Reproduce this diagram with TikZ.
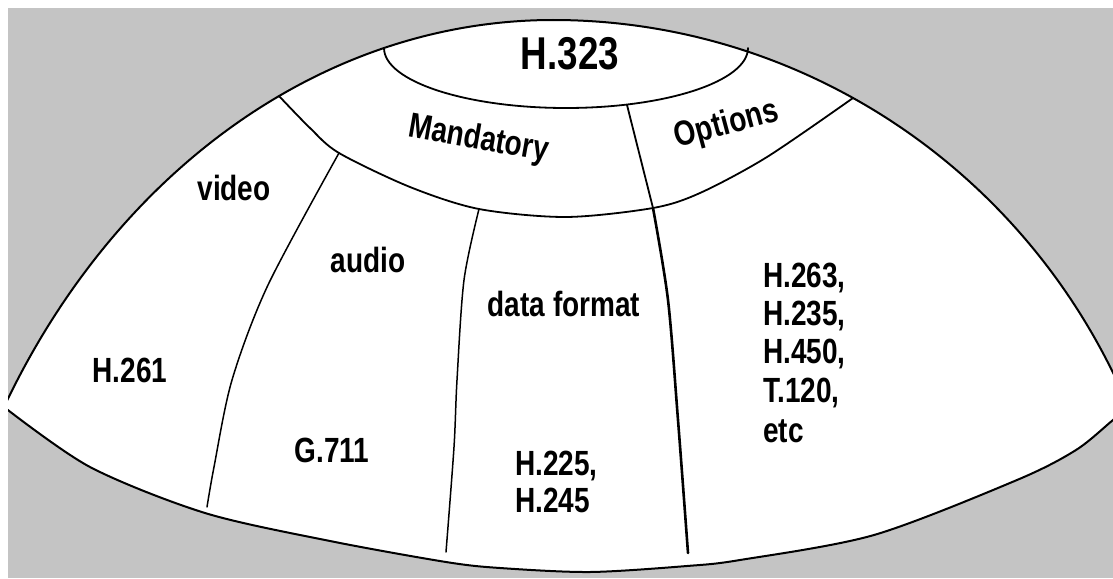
\documentclass[tikz,border=0pt]{standalone}
\usepackage{fontspec}
\setmainfont{Liberation Sans}[FakeStretch=0.8]
\definecolor{bggray}{RGB}{196,196,196}
\begin{document}
\begin{tikzpicture}[x=1pt,y=-1pt,
  outline/.style={line width=2pt, line join=round},
  arcline/.style={line width=1.8pt, line cap=round},
  divline/.style={line width=1.5pt, line cap=round},
  thickdiv/.style={line width=2.6pt, line cap=round},
  lbl/.style={inner sep=0pt, font=\fontsize{35}{38}\selectfont\bfseries},
  biglbl/.style={inner sep=0pt, font=\fontsize{46}{50}\selectfont\bfseries}]
\useasboundingbox (0,0) rectangle (1113,578);
\fill[white] (0,0) rectangle (1113,578);
\fill[bggray] (8,8) rectangle (1113,578);
\begin{scope}
\clip (8,8) rectangle (1113,578);
% outer shape: two elliptic arcs on top, smooth curve below
\path[fill=white, draw=black, outline]
  (4,407) arc[start angle=210, end angle=270, x radius=634, y radius=774]
  arc[start angle=270, end angle=337, x radius=625.7, y radius=637]
  -- plot[smooth] coordinates {(1129,408) (1113,420) (1076,450) (1017,480) (874,535) (740,560) (687,566) (590,572) (500,568) (446,562) (330,541) (205,513) (90,467) (4,407)}
  -- cycle;
% H.323 cap
\draw[arcline] (384,48) arc[start angle=180, end angle=0, x radius=182, y radius=60];
% Mandatory / Options band
\draw[arcline] plot[smooth] coordinates {(279,96) (310,128) (339,153) (410,187) (479,209) (566,217) (653,208) (700,193) (767,157) (853,98)};
% dividers
\draw[divline] plot[smooth] coordinates {(339,153) (268,285) (232,380) (214,467) (207,507)};
\draw[divline] plot[smooth] coordinates {(479,209) (464,280) (457,380) (454,447) (446,552)};
\draw[arcline] plot[smooth] coordinates {(627,105) (653,208)};
\draw[thickdiv] plot[smooth] coordinates {(653,208) (668,300) (678,420) (688,553)};
\end{scope}
% labels
\node[biglbl, anchor=base] (h323) at (570,70) {H.323};
\node[lbl, anchor=base, rotate=-10] (mand) at (477,149) {Mandatory};
\node[lbl, anchor=base, rotate=15] (opts) at (729,134) {Options};
\node[lbl, anchor=base] (video) at (234,200) {video};
\node[lbl, anchor=base] (audio) at (368,272) {audio};
\node[lbl, anchor=base] (data) at (564,316) {data format};
\node[lbl, anchor=base] (h261) at (130,382) {H.261};
\node[lbl, anchor=base] (g711) at (332,462) {G.711};
\node[lbl, anchor=base west] (h225) at (515,475) {H.225,};
\node[lbl, anchor=base west] (h245) at (515,512) {H.245};
\node[lbl, anchor=base west] (o1) at (763,287) {H.263,};
\node[lbl, anchor=base west] (o2) at (763,325) {H.235,};
\node[lbl, anchor=base west] (o3) at (763,363) {H.450,};
\node[lbl, anchor=base west] (o4) at (763,402) {T.120,};
\node[lbl, anchor=base west] (o5) at (763,442) {etc};
\end{tikzpicture}
\end{document}
